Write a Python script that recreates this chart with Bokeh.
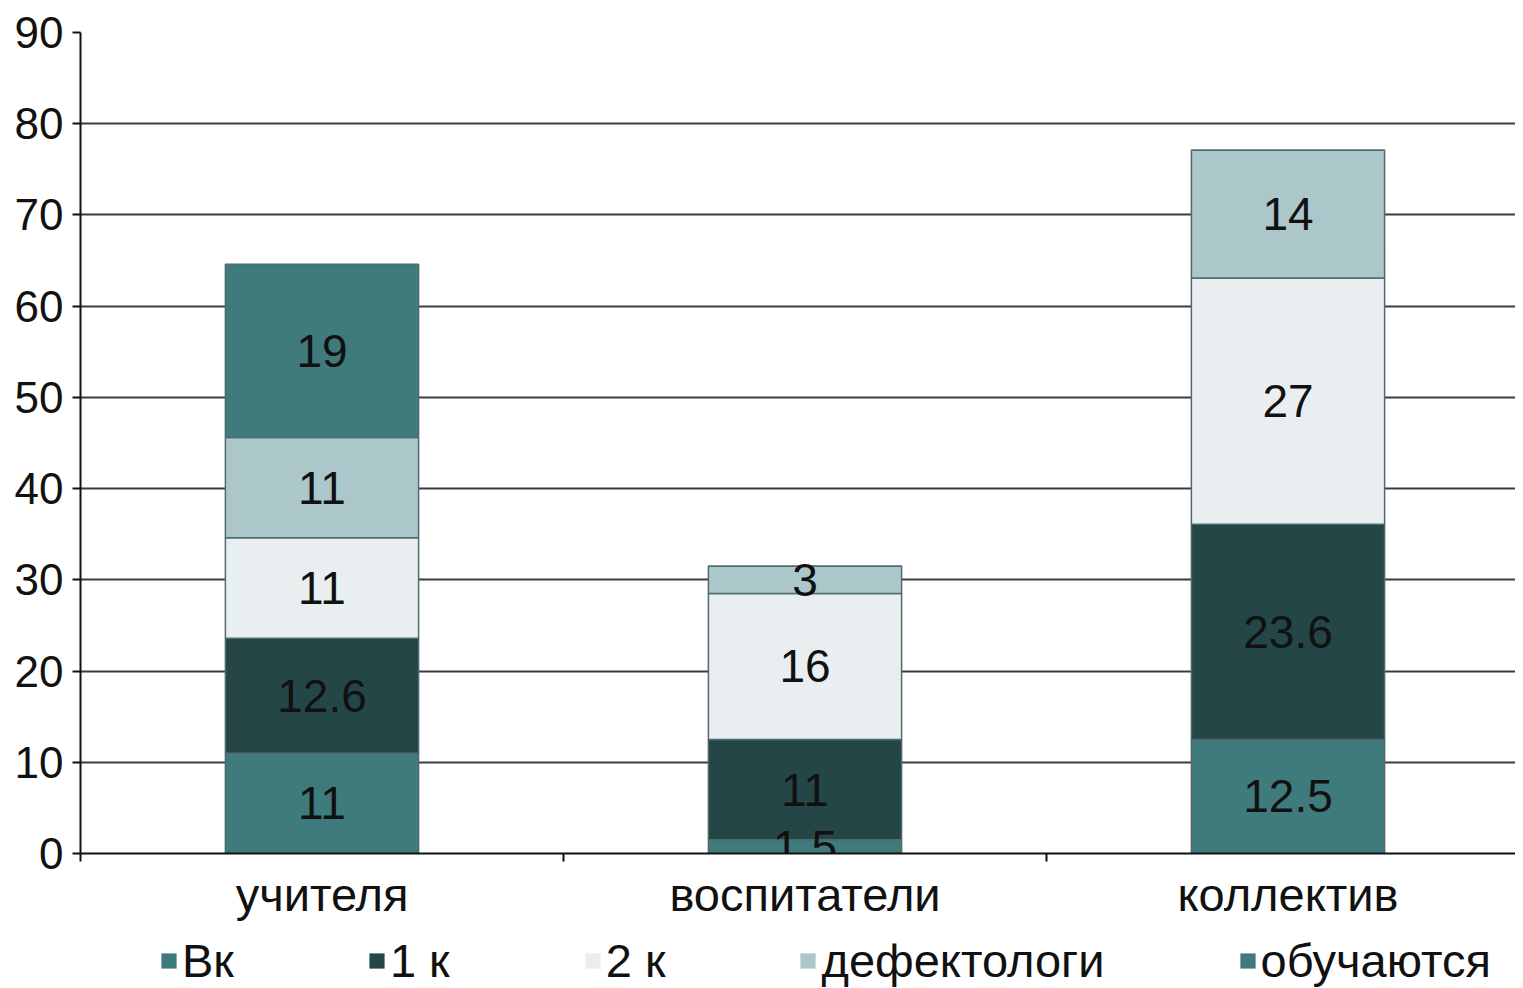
from bokeh.plotting import figure
from bokeh.models import ColumnDataSource, FixedTicker, Legend, LegendItem, Range1d
from bokeh.layouts import column
from bokeh.embed import file_html
from bokeh.resources import INLINE
from bokeh.core.properties import value
import numpy as np

categories = ["учителя", "воспитатели", "коллектив"]
series_names = ["Вк", "1 к", "2 к", "дефектологи", "обучаются"]
vk = [11, 1.5, 12.5]
k1 = [12.6, 11, 23.6]
k2 = [11, 16, 27]
defekt = [11, 3, 14]
obuch = [19, 0, 0]
y_ticks = [0, 10, 20, 30, 40, 50, 60, 70, 80, 90]
colors = ["#3f7b7d", "#244646", "#e9eef1", "#abc7c9", "#3f7b7d"]

FONT = value("Liberation Sans")
series = [vk, k1, k2, defekt, obuch]
keys = ["s%d" % i for i in range(len(series))]
xpos = [i + 0.5 for i in range(len(categories))]

data = {"x": xpos}
for k, s in zip(keys, series):
    data[k] = s
src = ColumnDataSource(data)

W, H, LH = 1515, 930, 58
p = figure(width=W, height=H, x_range=Range1d(0, (W - 80) / 483.0), y_range=Range1d(0, 90),
           output_backend="svg", toolbar_location=None,
           min_border_left=80, min_border_right=0, min_border_top=32, min_border_bottom=H - 853)
p.outline_line_color = None
p.background_fill_color = "white"

p.vbar_stack(keys, x="x", width=0.4, source=src, fill_color=colors,
             line_color="#4f6b6c", line_width=1.5)

# segment labels
arr = np.array(series, dtype=float)
bottoms = np.vstack([np.zeros(arr.shape[1]), np.cumsum(arr, axis=0)[:-1]])
lx, ly, lt = [], [], []
for si in range(arr.shape[0]):
    for ci in range(arr.shape[1]):
        v = arr[si, ci]
        if v > 0:
            lx.append(xpos[ci])
            ly.append(bottoms[si, ci] + v / 2)
            lt.append(("%g" % v))
lsrc = ColumnDataSource(dict(x=lx, y=ly, t=lt))
p.text(x="x", y="y", text="t", source=lsrc, text_align="center", text_baseline="middle",
       text_font=FONT, text_font_size="46px", text_color="#111111")

# axes
p.xgrid.visible = False
p.ygrid.ticker = FixedTicker(ticks=y_ticks)
p.ygrid.grid_line_color = "#3c3c3c"
p.ygrid.grid_line_width = 2

p.yaxis.ticker = FixedTicker(ticks=y_ticks)
p.yaxis.major_tick_out = 8
p.yaxis.major_tick_in = 0
p.yaxis.minor_tick_line_color = None
p.yaxis.major_label_standoff = 9
p.yaxis.major_label_text_font = "Liberation Sans"
p.yaxis.major_label_text_font_size = "44px"
p.yaxis.major_label_text_color = "#111111"
p.yaxis.axis_line_color = "#111111"
p.yaxis.axis_line_width = 2
p.yaxis.major_tick_line_color = "#111111"
p.yaxis.major_tick_line_width = 2

p.xaxis.ticker = FixedTicker(ticks=xpos, minor_ticks=[0, 1, 2])
p.xaxis.major_label_overrides = {x: c for x, c in zip(xpos, categories)}
p.xaxis.major_tick_out = 0
p.xaxis.major_tick_in = 0
p.xaxis.minor_tick_out = 8
p.xaxis.minor_tick_in = 0
p.xaxis.minor_tick_line_color = "#111111"
p.xaxis.minor_tick_line_width = 2
p.xaxis.major_label_standoff = 6
p.xaxis.major_label_text_font = "Liberation Sans"
p.xaxis.major_label_text_font_size = "47px"
p.xaxis.major_label_text_color = "#111111"
p.xaxis.axis_line_color = "#111111"
p.xaxis.axis_line_width = 2

# legend strip below the chart, with plain square swatches
lf = figure(width=W, height=LH, x_range=Range1d(0, 3), y_range=Range1d(0, 1),
            output_backend="svg", toolbar_location=None, min_border=0,
            x_axis_location=None, y_axis_location=None)
lf.outline_line_color = None
lf.xgrid.visible = False
lf.ygrid.visible = False
items = []
for name, c in zip(series_names, colors):
    # zero-height bars: nothing visible in the strip, only the legend swatch
    r = lf.vbar(x="x", top=0, bottom=0, width=0.4, source=src, fill_color=c, line_color=None)
    items.append(LegendItem(label=name, renderers=[r]))
legend = Legend(items=items, orientation="horizontal", location=(79, 0),
                glyph_width=19, glyph_height=19, label_standoff=4, spacing=133,
                padding=0, margin=0, border_line_color=None, background_fill_alpha=0,
                label_text_font="Liberation Sans", label_text_font_size="47px",
                label_text_color="#111111")
lf.add_layout(legend, "center")

open("out.html", "w").write(file_html(column(p, lf), INLINE))
